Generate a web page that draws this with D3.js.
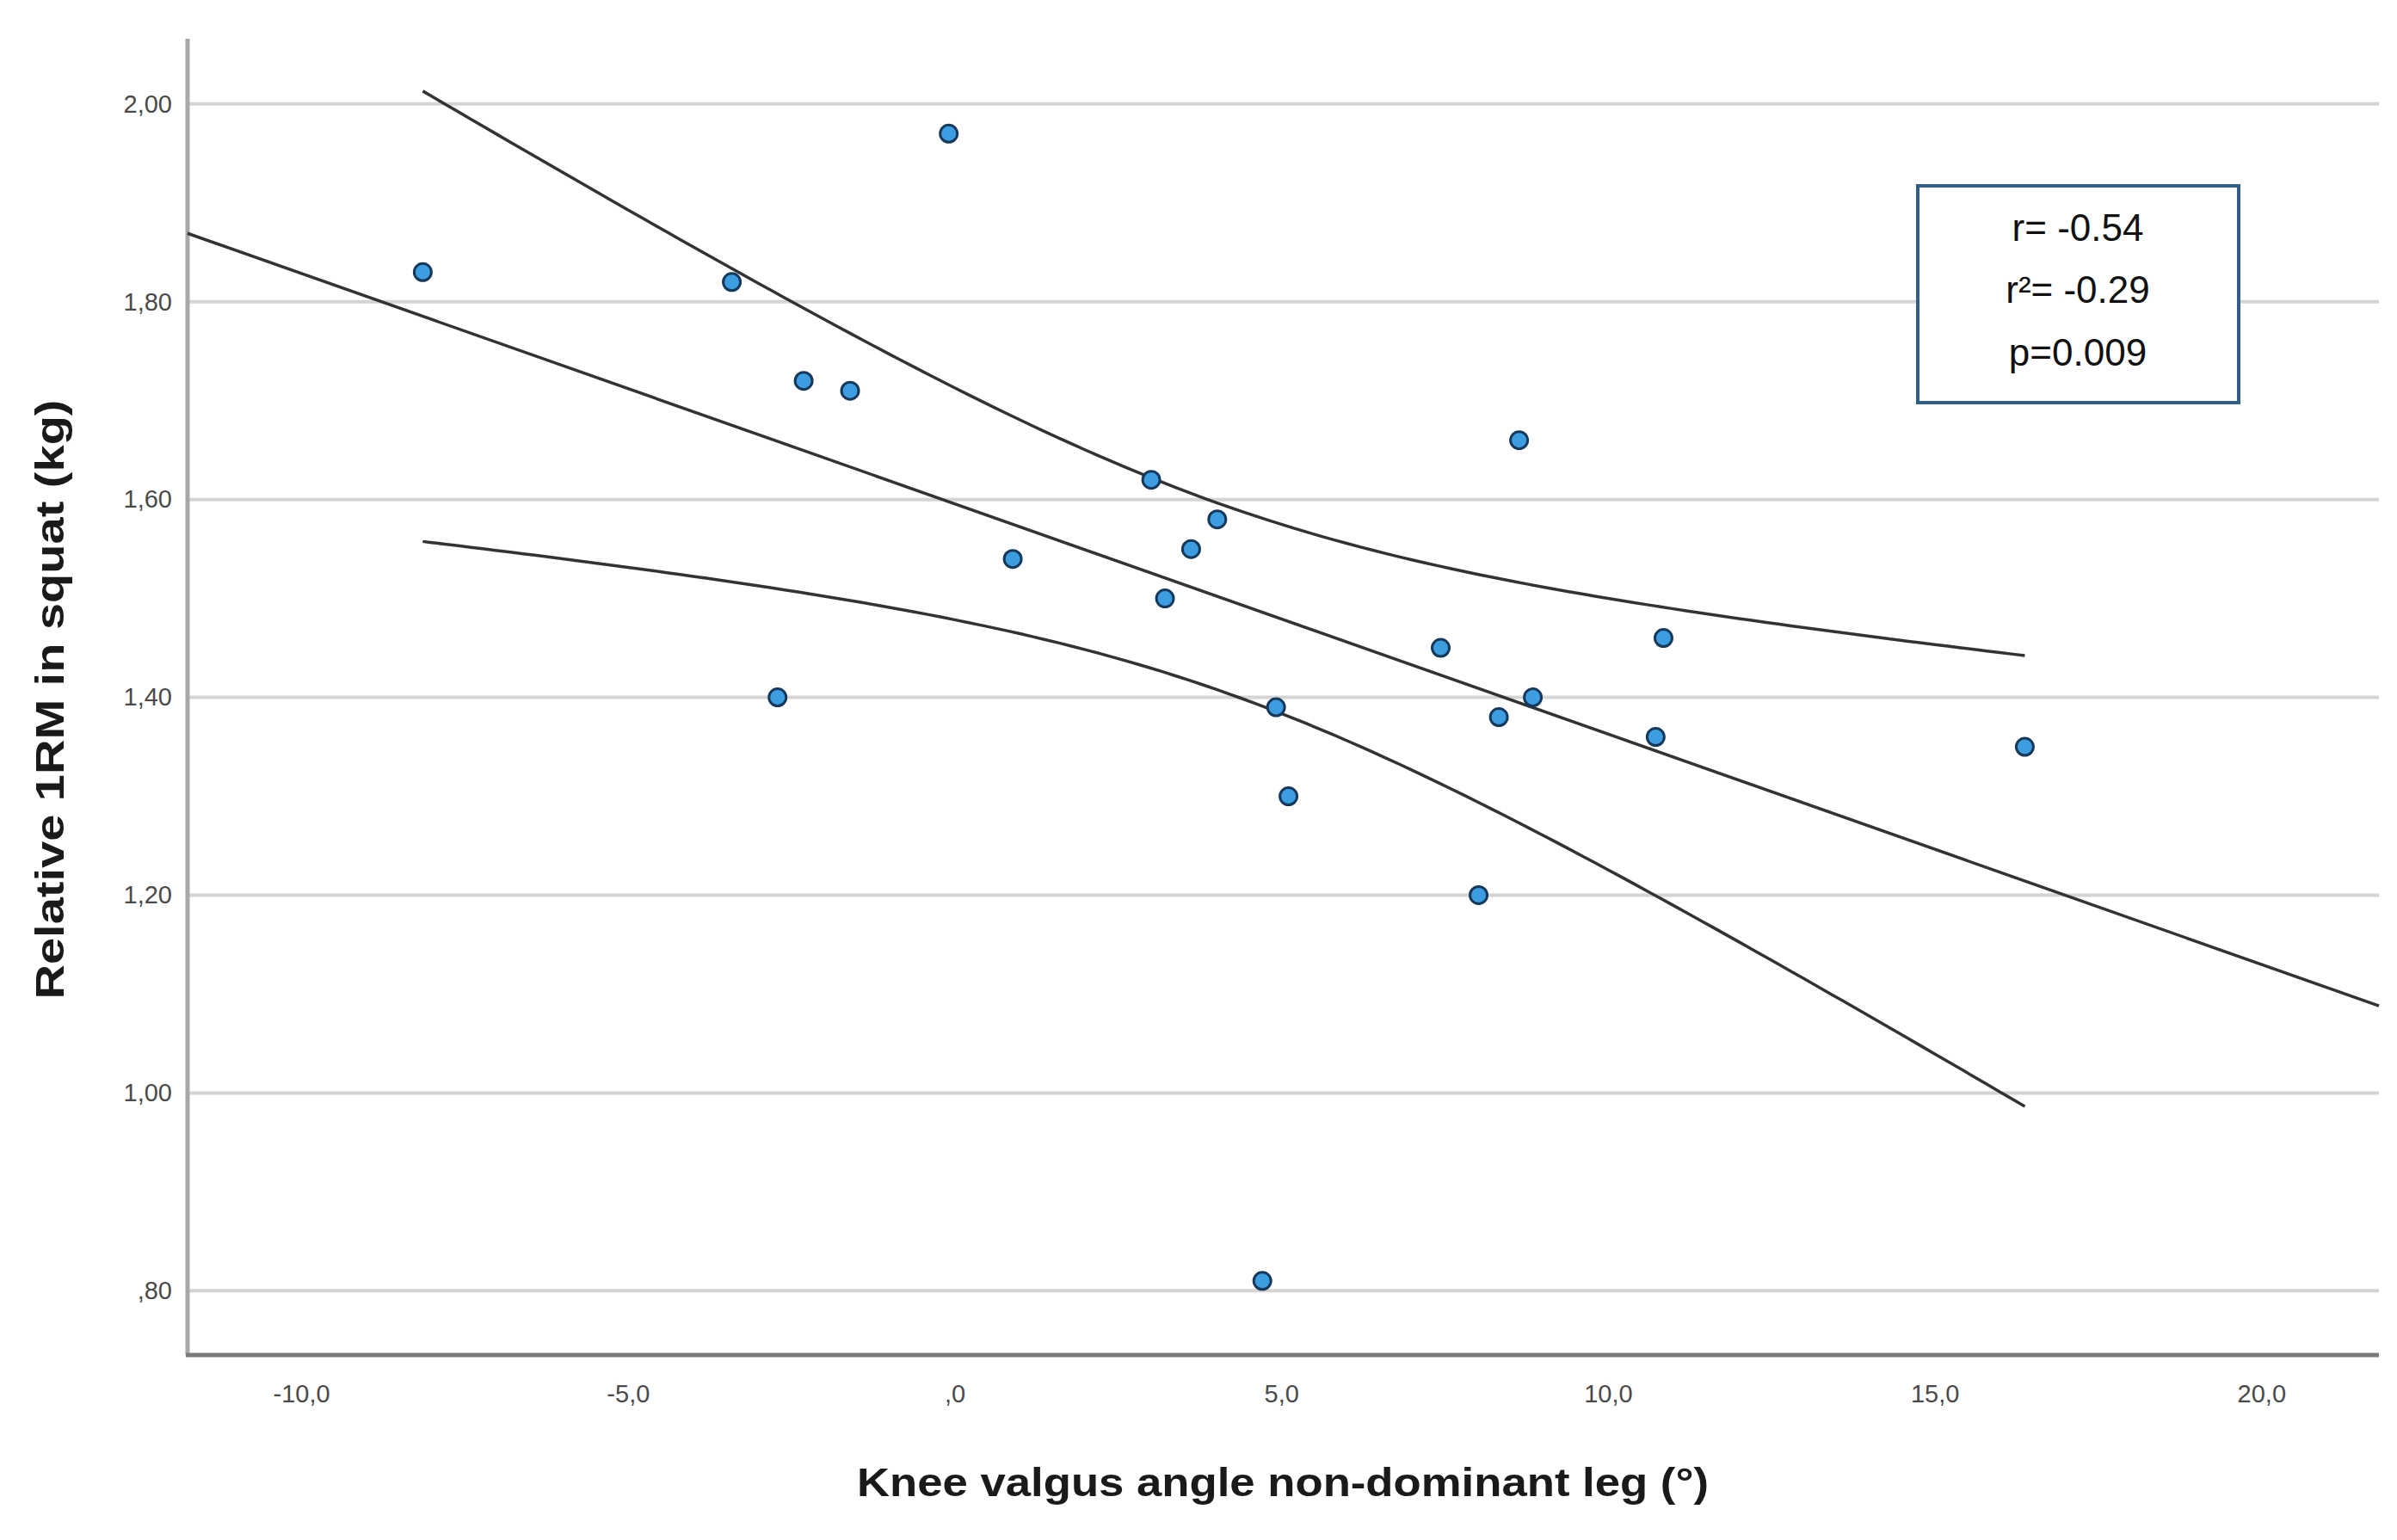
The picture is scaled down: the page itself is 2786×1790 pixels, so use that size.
<!DOCTYPE html>
<html>
<head>
<meta charset="utf-8">
<script src="https://cdn.jsdelivr.net/npm/d3@7"></script>
<style>
  body { margin: 0; background: #fff; }
  svg { display: block; }
</style>
</head>
<body>
<svg id="chart" width="2786" height="1790"></svg>
<script>
// values
var kneeAngle = [-8.14, -3.41, -0.09, -2.31, -1.60, 3.01, 4.02, 3.62, 0.89, 3.22, 8.64,
                 7.44, 10.85, -2.71, 4.92, 8.85, 8.33, 10.73, 16.38, 5.11, 8.02, 4.71];
var relative1RM = [1.83, 1.82, 1.97, 1.72, 1.71, 1.62, 1.58, 1.55, 1.54, 1.50, 1.66,
                   1.45, 1.46, 1.40, 1.39, 1.40, 1.38, 1.36, 1.35, 1.30, 1.20, 0.81];
var xTicks = [-10, -5, 0, 5, 10, 15, 20];
var xTickLabels = ["-10,0", "-5,0", ",0", "5,0", "10,0", "15,0", "20,0"];
var yTicks = [0.8, 1.0, 1.2, 1.4, 1.6, 1.8, 2.0];
var yTickLabels = [",80", "1,00", "1,20", "1,40", "1,60", "1,80", "2,00"];
var statLines = ["r= -0.54", "r\u00B2= -0.29", "p=0.009"];
var tCrit = 2.086; // t(0.975, df = 20)

main();

function main() {
    var svg = d3.select("#chart");
    var left = 218, right = 2765, top = 45, bottom = 1575;

    var x = d3.scaleLinear().domain([-11.74, 21.8]).range([left, right]);
    var y = d3.scaleLinear().domain([0.735, 2.066]).range([bottom, top]);

    //grid lines
    svg.selectAll("line.grid")
        .data(yTicks)
        .enter().append("line")
        .attr("class", "grid")
        .attr("x1", left).attr("x2", right)
        .attr("y1", function(d) { return y(d); })
        .attr("y2", function(d) { return y(d); })
        .attr("stroke", "#d4d4d4")
        .attr("stroke-width", 4);

    //axes, no tick marks
    var yAxis = d3.axisLeft(y).tickValues(yTicks).tickSize(0).tickPadding(18)
        .tickFormat(function(d, i) { return yTickLabels[i]; });
    var xAxis = d3.axisBottom(x).tickValues(xTicks).tickSize(0).tickPadding(34)
        .tickFormat(function(d, i) { return xTickLabels[i]; });

    var gy = svg.append("g").attr("transform", "translate(" + left + ",0)").call(yAxis);
    var gx = svg.append("g").attr("transform", "translate(0," + bottom + ")").call(xAxis);
    gy.select(".domain").remove();
    gx.select(".domain").remove();
    [gx, gy].forEach(function(g) {
        g.selectAll("text")
            .attr("fill", "#4a4a4a")
            .style("font-family", "Liberation Sans, Arial, sans-serif")
            .style("font-size", "29px");
    });

    svg.append("line")
        .attr("x1", left).attr("x2", left).attr("y1", top).attr("y2", bottom)
        .attr("stroke", "#a8a8a8").attr("stroke-width", 5);
    svg.append("line")
        .attr("x1", left - 2).attr("x2", right).attr("y1", bottom).attr("y2", bottom)
        .attr("stroke", "#7a7a7a").attr("stroke-width", 5);

    //least squares fit and 95% CI of the mean
    var n = kneeAngle.length;
    var mx = d3.mean(kneeAngle), my = d3.mean(relative1RM);
    var sxx = 0, sxy = 0, syy = 0;
    for (var i = 0; i < n; i++) {
        sxx += (kneeAngle[i] - mx) * (kneeAngle[i] - mx);
        sxy += (kneeAngle[i] - mx) * (relative1RM[i] - my);
        syy += (relative1RM[i] - my) * (relative1RM[i] - my);
    }
    var slope = sxy / sxx;
    var icpt = my - slope * mx;
    var s = Math.sqrt((syy - sxy * sxy / sxx) / (n - 2));
    function fit(v) { return icpt + slope * v; }
    function half(v) { return tCrit * s * Math.sqrt(1 / n + (v - mx) * (v - mx) / sxx); }

    var xs = d3.ticks(d3.min(kneeAngle), d3.max(kneeAngle), 120);
    xs.unshift(d3.min(kneeAngle));
    xs.push(d3.max(kneeAngle));

    var line = d3.line().x(function(d) { return x(d[0]); }).y(function(d) { return y(d[1]); });
    var fitLine = x.domain().map(function(v) { return [v, fit(v)]; });
    var upper = xs.map(function(v) { return [v, fit(v) + half(v)]; });
    var lower = xs.map(function(v) { return [v, fit(v) - half(v)]; });

    svg.selectAll("path.fit")
        .data([fitLine, upper, lower])
        .enter().append("path")
        .attr("class", "fit")
        .attr("d", line)
        .attr("fill", "none")
        .attr("stroke", "#333")
        .attr("stroke-width", 3.5);

    //points
    svg.selectAll("circle")
        .data(kneeAngle)
        .enter().append("circle")
        .attr("cx", function(d) { return x(d); })
        .attr("cy", function(d, i) { return y(relative1RM[i]); })
        .attr("r", 10)
        .attr("fill", "#3c9de0")
        .attr("stroke", "#16385a")
        .attr("stroke-width", 3);

    //stats box
    svg.append("rect")
        .attr("x", 2229).attr("y", 216).attr("width", 373).attr("height", 252)
        .attr("fill", "#fff").attr("stroke", "#2f5f86").attr("stroke-width", 4);
    svg.selectAll("text.stat")
        .data(statLines)
        .enter().append("text")
        .attr("class", "stat")
        .attr("x", 2415)
        .attr("y", function(d, i) { return 268 + i * 72.5; })
        .attr("text-anchor", "middle")
        .attr("dominant-baseline", "middle")
        .attr("fill", "#111")
        .style("font-family", "Liberation Sans Narrow, Liberation Sans, sans-serif")
        .style("font-size", "44px")
        .text(function(d) { return d; });

    //axis titles
    svg.append("text")
        .attr("x", 1491).attr("y", 1727)
        .attr("text-anchor", "middle").attr("dominant-baseline", "middle")
        .attr("fill", "#1a1a1a")
        .style("font-family", "Liberation Sans, Arial, sans-serif")
        .style("font-weight", "bold").style("font-size", "46px")
        .attr("textLength", 990).attr("lengthAdjust", "spacingAndGlyphs")
        .text("Knee valgus angle non-dominant leg (\u00B0)");
    svg.append("text")
        .attr("transform", "translate(62,813) rotate(-90)")
        .attr("text-anchor", "middle").attr("dominant-baseline", "middle")
        .attr("fill", "#1a1a1a")
        .style("font-family", "Liberation Sans, Arial, sans-serif")
        .style("font-weight", "bold").style("font-size", "46px")
        .attr("textLength", 697).attr("lengthAdjust", "spacingAndGlyphs")
        .text("Relative 1RM in squat (kg)");
}
</script>
</body>
</html>
